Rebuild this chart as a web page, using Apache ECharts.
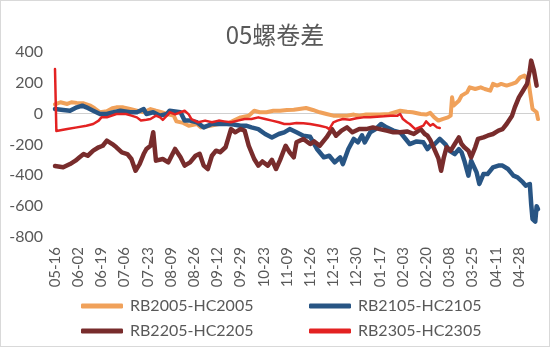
<!DOCTYPE html>
<html>
<head>
<meta charset="utf-8">
<script src="https://cdn.jsdelivr.net/npm/echarts@6/dist/echarts.min.js"></script>
<style>
  html, body { margin: 0; padding: 0; background: #fff; }
  #wrap { width: 548px; height: 345px; border: 1px solid #d9d9d9; }
  #chart { width: 548px; height: 345px; }
</style>
</head>
<body>
<div id="wrap"><div id="chart"></div></div>
<script>
// Title and series names
const chartTitle = '05螺卷差';
const seriesNames = ['RB2005-HC2005', 'RB2105-HC2105', 'RB2205-HC2205', 'RB2305-HC2305'];
const seriesColors = ['#F0A15A', '#285584', '#782C2C', '#E32222'];

// Trading calendar (MM-DD): union of trading days, 05-16 .. 05-15, exchange closed days removed
const calendarStart = '2019-05-16';
const calendarEnd = '2020-05-15';
const closedDays = ['10-01', '10-02', '10-03', '10-04', '10-05', '10-06', '10-07', '01-01', '05-01', '05-02', '05-03'];

// Y axis ticks
const yTicks = { min: -800, max: 400, step: 200 };

// Spread values, [trading-day index, value]
const rb2005 = [[0,60],[1,63],[4,74],[9,63],[12,74],[16,70],[21,67],[26,52],[29,35],[33,9],[38,15],[42,35],[45,41],[50,41],[55,30],[60,19],[65,9],[70,30],[74,19],[78,9],[82,-2],[87,-13],[89,-50],[94,-60],[98,-78],[104,-67],[107,-89],[113,-80],[120,-67],[126,-67],[131,-45],[136,-24],[142,-13],[146,19],[150,9],[155,9],[160,19],[165,19],[170,24],[175,25],[179,30],[184,37],[189,24],[194,9],[199,-2],[204,-13],[209,-13],[214,-13],[219,-6],[223,-13],[228,-6],[238,-6],[245,-2],[253,19],[258,12],[262,9],[268,-2],[272,-6],[275,5],[278,-24],[281,-45],[284,-35],[288,-24],[290,-13],[291,106],[292,52],[296,84],[298,117],[302,138],[304,171],[308,160],[312,171],[315,160],[319,149],[321,193],[324,182],[327,193],[331,182],[335,193],[338,203],[341,236],[344,247],[347,214],[348,149],[350,30],[353,9],[354,-35]];

const rb2105 = [[0,30],[1,30],[6,24],[11,19],[16,41],[20,52],[23,41],[28,19],[33,-2],[38,-2],[43,9],[48,19],[55,9],[60,9],[65,30],[67,-2],[72,9],[77,-13],[82,-2],[84,19],[92,9],[95,-45],[99,-45],[104,-56],[109,-89],[115,-67],[120,-67],[126,-67],[131,-70],[136,-78],[140,-78],[144,-89],[149,-100],[154,-132],[159,-154],[164,-132],[168,-121],[172,-100],[177,-121],[182,-143],[187,-150],[192,-229],[197,-283],[201,-273],[205,-316],[209,-283],[211,-327],[215,-229],[219,-164],[222,-186],[225,-140],[227,-186],[231,-121],[235,-100],[239,-67],[243,-89],[248,-110],[253,-121],[257,-164],[260,-197],[265,-180],[270,-186],[273,-230],[275,-208],[278,-200],[282,-164],[286,-197],[289,-240],[293,-262],[296,-230],[298,-251],[300,-305],[303,-402],[305,-305],[309,-381],[311,-456],[314,-392],[317,-392],[321,-348],[325,-337],[328,-337],[332,-359],[336,-402],[339,-413],[343,-446],[345,-467],[348,-456],[349,-586],[350,-684],[352,-700],[353,-600],[354,-620]];

const rb2205 = [[0,-340],[1,-337],[6,-348],[11,-327],[15,-305],[18,-283],[21,-262],[24,-273],[28,-240],[32,-218],[35,-208],[38,-175],[42,-197],[45,-218],[49,-251],[53,-262],[56,-294],[59,-370],[62,-327],[65,-262],[67,-229],[70,-208],[72,-121],[74,-305],[79,-294],[83,-316],[88,-229],[92,-283],[95,-337],[99,-316],[103,-273],[106,-260],[109,-337],[112,-359],[115,-273],[118,-240],[121,-250],[125,-218],[129,-100],[132,-121],[136,-100],[139,-110],[142,-208],[146,-294],[149,-337],[152,-310],[156,-337],[159,-300],[162,-359],[165,-300],[169,-208],[172,-251],[175,-283],[177,-186],[182,-164],[187,-197],[190,-180],[194,-208],[199,-154],[203,-100],[206,-143],[210,-110],[214,-89],[218,-121],[223,-100],[228,-100],[233,-89],[238,-100],[243,-110],[248,-121],[253,-121],[258,-115],[263,-132],[268,-100],[271,-132],[273,-143],[275,-170],[278,-230],[281,-290],[283,-370],[285,-283],[287,-218],[290,-240],[293,-197],[296,-154],[298,-197],[300,-218],[303,-240],[305,-283],[308,-218],[310,-164],[314,-154],[317,-143],[321,-132],[325,-110],[328,-100],[331,-67],[335,-13],[337,41],[340,106],[343,149],[346,193],[348,279],[349,344],[351,279],[353,182]];

const rb2305 = [[0,290],[1,-112],[9,-100],[16,-89],[23,-78],[28,-67],[32,-45],[34,-24],[38,-24],[45,-2],[52,-2],[56,-13],[60,-24],[63,-45],[67,-40],[70,-35],[74,-13],[77,-24],[79,-40],[82,-13],[84,9],[88,-5],[92,9],[95,19],[98,-5],[100,-35],[105,-56],[110,-45],[115,-56],[120,-45],[124,-50],[129,-56],[134,-45],[139,-35],[144,-35],[149,-24],[154,-35],[159,-45],[164,-56],[168,-67],[172,-67],[177,-60],[182,-62],[187,-67],[194,-78],[199,-89],[201,-100],[204,-56],[207,-45],[211,-35],[216,-40],[221,-30],[226,-24],[231,-24],[236,-20],[241,-17],[246,-13],[251,-13],[253,-2],[255,-35],[258,-56],[260,-67],[264,-100],[267,-89],[270,-78],[272,-50],[275,-78],[277,-67],[280,-89],[282,-93]];

const seriesData = [rb2005, rb2105, rb2205, rb2305];
const lineWidths = [4, 4.5, 4.5, 2.5];

// Build the MM-DD category list
function buildCalendar(start, end, skip) {
  const out = [];
  const d = new Date(start + 'T00:00:00Z');
  const stop = new Date(end + 'T00:00:00Z');
  while (d <= stop) {
    const mm = String(d.getUTCMonth() + 1).padStart(2, '0');
    const dd = String(d.getUTCDate()).padStart(2, '0');
    const key = mm + '-' + dd;
    if (skip.indexOf(key) < 0) out.push(key);
    d.setUTCDate(d.getUTCDate() + 1);
  }
  return out;
}
const categories = buildCalendar(calendarStart, calendarEnd, closedDays);

const textColor = '#595959';
const latin = 'Lato, "Noto Sans", sans-serif';

const chart = echarts.init(document.getElementById('chart'), null, { renderer: 'canvas' });

const legendPos = [
  { left: 75, top: 292 },
  { left: 303, top: 292 },
  { left: 75, top: 317 },
  { left: 303, top: 317 }
];

chart.setOption({
  animation: false,
  backgroundColor: '#fff',
  title: {
    text: chartTitle,
    left: 'center',
    top: 17,
    textStyle: { color: textColor, fontSize: 24, fontWeight: 'normal', fontFamily: '"Noto Sans CJK SC", sans-serif' }
  },
  legend: seriesNames.map((n, i) => ({
    data: [n],
    left: legendPos[i].left,
    top: legendPos[i].top,
    icon: 'roundRect',
    itemWidth: 42,
    itemHeight: 5,
    itemGap: 0,
    textStyle: { color: textColor, fontSize: 16, fontFamily: latin, padding: [0, 0, 0, 2] }
  })),
  grid: { left: 54, right: 11, top: 51, bottom: 109, containLabel: false },
  xAxis: {
    type: 'category',
    data: categories,
    boundaryGap: false,
    axisLine: { show: false },
    axisTick: { show: false },
    splitLine: { show: false },
    axisLabel: {
      rotate: 90,
      interval: 16,
      margin: 10,
      color: textColor,
      fontSize: 15,
      fontFamily: latin
    }
  },
  yAxis: {
    type: 'value',
    min: yTicks.min,
    max: yTicks.max,
    interval: yTicks.step,
    axisLine: { show: false },
    axisTick: { show: false },
    splitLine: { show: false },
    axisLabel: { color: textColor, fontSize: 16, margin: 12, fontFamily: latin }
  },
  series: seriesNames.map((n, i) => ({
    name: n,
    type: 'line',
    data: seriesData[i],
    symbol: 'none',
    showSymbol: false,
    color: seriesColors[i],
    lineStyle: { width: lineWidths[i], color: seriesColors[i], cap: 'round', join: 'round' },
    markLine: i === 0 ? {
      silent: true,
      symbol: 'none',
      label: { show: false },
      lineStyle: { color: '#d0d0d0', width: 1, type: 'solid' },
      data: [{ yAxis: 0 }],
      z: 1
    } : undefined
  }))
});
</script>
</body>
</html>
